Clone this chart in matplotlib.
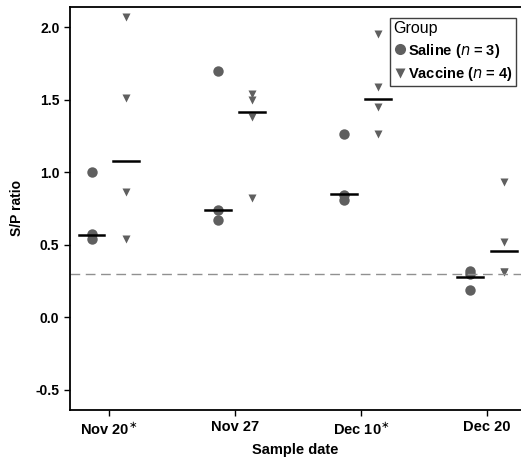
import matplotlib.pyplot as plt
import matplotlib.ticker as ticker
from matplotlib.lines import Line2D
import numpy as np

plt.rcParams['font.family'] = ['Liberation Sans', 'DejaVu Sans']

dates = ['Nov 20$^{\\ast}$', 'Nov 27', 'Dec 10$^{\\ast}$', 'Dec 20']

saline = [
    [1.00, 0.57, 0.54],
    [1.70, 0.74, 0.67],
    [1.26, 0.84, 0.81],
    [0.32, 0.30, 0.19],
]
vaccine = [
    [2.07, 1.51, 0.86, 0.54],
    [1.54, 1.50, 1.38, 0.82],
    [1.95, 1.59, 1.45, 1.26],
    [0.93, 0.52, 0.31, 0.31],
]
saline_center = [0.566, 0.737, 0.85, 0.275]
vaccine_center = [1.075, 1.418, 1.507, 0.456]
cutoff = 0.30

offset = 0.135
grey = '#5f5f5f'

fig = plt.figure(figsize=(5.21, 4.57), dpi=100)
ax = fig.add_axes([0.134, 0.103, 0.866, 0.882])

x = np.arange(len(dates))
for i in x:
    ax.plot([i - offset] * len(saline[i]), saline[i], 'o', color=grey, ms=7.5, mec='none')
    ax.plot([i + offset] * len(vaccine[i]), vaccine[i], 'v', color=grey, ms=6, mec='none')
    ax.plot([i - offset - 0.1, i - offset + 0.1], [saline_center[i]] * 2, color='black', lw=1.8)
    ax.plot([i + offset - 0.1, i + offset + 0.1], [vaccine_center[i]] * 2, color='black', lw=1.8)

ax.axhline(cutoff, color='#909090', lw=1, dashes=(7, 4))

ax.set_xlim(-0.31, 3.27)
ax.set_ylim(-0.64, 2.14)
ax.set_xticks(x)
ax.set_xticklabels(dates, fontweight='bold', fontsize=10.5)
ax.yaxis.set_major_locator(ticker.MultipleLocator(0.5))
ax.yaxis.set_major_formatter(ticker.FormatStrFormatter('%.1f'))
for t in ax.get_yticklabels():
    t.set_fontweight('bold')
    t.set_fontsize(10)
ax.tick_params(length=4, width=1)
ax.spines['right'].set_visible(False)
for s in ['left', 'bottom', 'top']:
    ax.spines[s].set_linewidth(1.3)

ax.set_xlabel('Sample date', fontweight='bold', fontsize=10.5, labelpad=4)
ax.set_ylabel('S/P ratio', fontweight='bold', fontsize=10, labelpad=8)

handles = [
    Line2D([], [], marker='o', ls='none', color=grey, mec='none', ms=8),
    Line2D([], [], marker='v', ls='none', color=grey, mec='none', ms=7),
]
leg = ax.legend(handles, ['Saline ($\\it{n}$ = 3)', 'Vaccine ($\\it{n}$ = 4)'],
                title='Group', loc='upper right', bbox_to_anchor=(0.995, 0.98),
                fancybox=False, edgecolor='#404040', framealpha=1,
                handletextpad=0.1, handlelength=0.9, borderpad=0.25,
                borderaxespad=0.2, labelspacing=0.35,
                prop={'weight': 'bold', 'size': 10.5},
                title_fontsize=11.5)
leg._legend_box.align = 'left'
leg.get_frame().set_linewidth(1)

fig.savefig('out.png', dpi=100)
